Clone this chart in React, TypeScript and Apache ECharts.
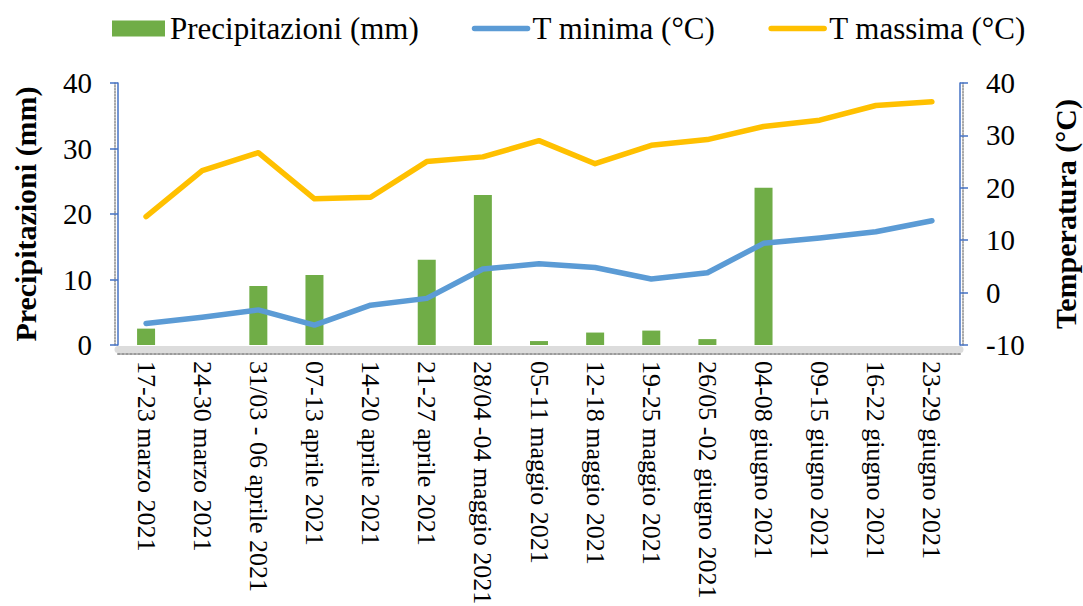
import React, { useEffect, useRef } from "react";
import * as echarts from "echarts";

// Weekly periods, spring 2021
const periods = [
  "17-23 marzo 2021",
  "24-30 marzo 2021",
  "31/03 - 06 aprile 2021",
  "07-13 aprile 2021",
  "14-20 aprile 2021",
  "21-27 aprile 2021",
  "28/04 -04 maggio 2021",
  "05-11 maggio 2021",
  "12-18 maggio 2021",
  "19-25 maggio 2021",
  "26/05 -02 giugno 2021",
  "04-08 giugno 2021",
  "09-15 giugno 2021",
  "16-22 giugno 2021",
  "23-29 giugno 2021",
];

// Rainfall (mm)
const precipitazioni = [2.5, 0, 9.0, 10.7, 0, 13.0, 22.9, 0.6, 1.9, 2.2, 0.9, 24.0, 0, 0, 0];
// Minimum temperature (°C)
const tMinima = [-5.9, -4.7, -3.3, -6.2, -2.4, -1.1, 4.5, 5.5, 4.8, 2.6, 3.8, 9.4, 10.4, 11.6, 13.7];
// Maximum temperature (°C)
const tMassima = [14.5, 23.3, 26.7, 17.9, 18.2, 25.0, 25.9, 29.0, 24.6, 28.1, 29.2, 31.7, 32.9, 35.7, 36.4];

const FONT = "Liberation Serif";
const AXIS_BLUE = "#4472C4";
const GREEN = "#70AD47";
const BLUE = "#5B9BD5";
const GOLD = "#FFC000";

export default function App() {
  const ref = useRef<HTMLDivElement>(null);

  useEffect(() => {
    if (!ref.current) return;
    const chart = echarts.init(ref.current, undefined, { renderer: "svg" });

    const yAxisCommon = {
      type: "value",
      interval: 10,
      splitLine: { show: false },
      axisLine: { show: true, onZero: false, lineStyle: { color: AXIS_BLUE, width: 1.5 } },
      axisTick: { show: true, length: 8, lineStyle: { color: AXIS_BLUE, width: 1.5 } },
      axisLabel: { color: "#000", fontFamily: FONT, fontSize: 29, margin: 26 },
      nameLocation: "middle",
      nameRotate: 90,
      nameTextStyle: { color: "#000", fontFamily: FONT, fontSize: 30, fontWeight: "bold" },
    };

    // thin dotted wall edge drawn just outside each value axis
    const wallAxis = (position: string, min: number, max: number) => ({
      type: "value",
      position,
      offset: 3,
      min,
      max,
      interval: 10,
      splitLine: { show: false },
      axisTick: { show: false },
      axisLabel: { show: false },
      axisLine: { show: true, onZero: false, lineStyle: { color: "#8c8c8c", width: 1.5, type: "dotted" } },
    });

    chart.setOption({
      animation: false,
      backgroundColor: "#fff",
      textStyle: { fontFamily: FONT },
      grid: {
        left: 118,
        right: 123,
        top: 83,
        bottom: 261,
        containLabel: false,
        outerBoundsMode: "none",
      },
      legend: {
        left: 107,
        top: 8,
        itemWidth: 53,
        itemHeight: 16,
        itemGap: 53,
        textStyle: { color: "#000", fontFamily: FONT, fontSize: 31 },
        data: [
          { name: "Precipitazioni (mm)", icon: "rect" },
          { name: "T minima (°C)", itemStyle: { opacity: 0 }, lineStyle: { width: 5.5, cap: "round" } },
          { name: "T massima (°C)", itemStyle: { opacity: 0 }, lineStyle: { width: 5.5, cap: "round" } },
        ],
      },
      xAxis: [
        {
          type: "category",
          data: periods,
          offset: 4,
          axisLine: { show: true, onZero: false, lineStyle: { color: "#dcdcdc", width: 7 } },
          axisTick: { show: false },
          axisLabel: {
            color: "#000",
            fontFamily: FONT,
            fontSize: 26,
            rotate: -90,
            margin: 12,
            interval: 0,
          },
        },
        {
          // dotted edge of the chart floor
          type: "category",
          data: periods,
          position: "bottom",
          offset: 9,
          axisLine: { show: true, onZero: false, lineStyle: { color: "#9a9a9a", width: 2, type: "dotted" } },
          axisTick: { show: false },
          axisLabel: { show: false },
        },
      ],
      yAxis: [
        {
          ...yAxisCommon,
          name: "Precipitazioni (mm)",
          nameGap: 78,
          position: "left",
          min: 0,
          max: 40,
        },
        {
          ...yAxisCommon,
          name: "Temperatura (°C)",
          nameGap: 90,
          position: "right",
          min: -10,
          max: 40,
        },
        wallAxis("left", 0, 40),
        wallAxis("right", -10, 40),
      ],
      series: [
        {
          name: "Precipitazioni (mm)",
          type: "bar",
          yAxisIndex: 0,
          data: precipitazioni,
          barWidth: 18,
          itemStyle: { color: GREEN },
        },
        {
          name: "T minima (°C)",
          type: "line",
          yAxisIndex: 1,
          data: tMinima,
          symbol: "none",
          lineStyle: { color: BLUE, width: 5.5, cap: "round", join: "round" },
          itemStyle: { color: BLUE },
        },
        {
          name: "T massima (°C)",
          type: "line",
          yAxisIndex: 1,
          data: tMassima,
          symbol: "none",
          lineStyle: { color: GOLD, width: 5.5, cap: "round", join: "round" },
          itemStyle: { color: GOLD },
        },
      ],
    });

    return () => chart.dispose();
  }, []);

  return (
    <div
      ref={ref}
      style={{ position: "fixed", left: 0, top: 0, width: 1083, height: 606, background: "#fff" }}
    />
  );
}
